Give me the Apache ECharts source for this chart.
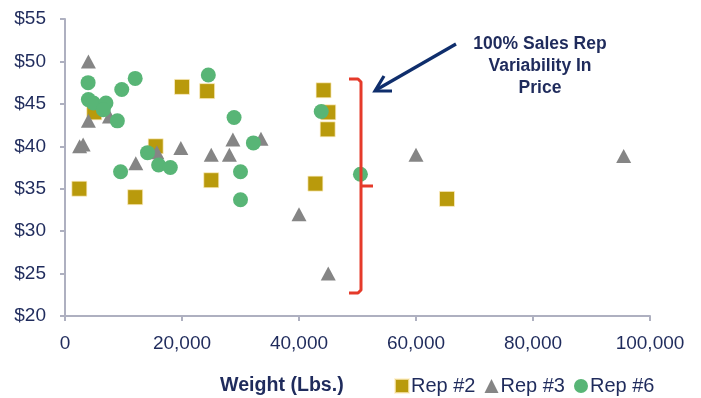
<!DOCTYPE html>
<html>
<head>
<meta charset="utf-8">
<script src="https://cdn.jsdelivr.net/npm/echarts@6/dist/echarts.min.js"></script>
<style>
  html, body { margin: 0; padding: 0; background: #ffffff; }
  #chart { width: 701px; height: 398px; }
</style>
</head>
<body>
<div id="chart"></div>
<script>
// Shipment weight (lbs) and price per rep
var seriesNames = ['Rep #2', 'Rep #3', 'Rep #6'];

var rep2Weight = [2450, 12000, 15500, 20000, 24300, 25000, 5000, 42800, 44200, 45000, 44900, 65300];
var rep2Price  = [35.0, 34.0, 40.0, 47.0, 46.5, 36.0, 44.0, 35.6, 46.6, 44.0, 42.0, 33.8];

var rep3Weight = [4000, 4000, 2500, 3100, 12100, 15700, 19800, 7600, 25000, 28100, 28700, 33500, 40000, 45000, 60000, 95500];
var rep3Price  = [50.0, 43.0, 40.0, 40.2, 38.0, 39.3, 39.8, 43.5, 39.0, 39.0, 40.8, 40.9, 32.0, 25.0, 39.0, 38.85];

var rep6Weight = [3950, 4000, 4850, 7000, 6550, 8950, 9700, 12000, 9500, 14100, 16000, 18000, 24500, 28900, 32200, 30000, 30000, 43800, 50500];
var rep6Price  = [47.5, 45.5, 45.1, 45.1, 44.3, 43.0, 46.7, 48.0, 37.0, 39.25, 37.8, 37.5, 48.4, 43.4, 40.4, 37.0, 33.7, 44.1, 36.7];

var xTicks = { min: 0, max: 100000, step: 20000 };
var yTicks = { min: 20, max: 55, step: 5 };

var annotationText = '100% Sales Rep\nVariability In\nPrice';
var xAxisTitle = 'Weight (Lbs.)';

function pairs(xs, ys) {
  return xs.map(function (x, i) { return [x, ys[i]]; });
}

var navy = '#1f2b5c';
var fontFamily = 'Arial, "Liberation Sans", sans-serif';
var axisGray = '#aeb0c0';

var chart = echarts.init(document.getElementById('chart'), null, { renderer: 'canvas' });

chart.setOption({
  animation: false,
  backgroundColor: '#ffffff',
  grid: { left: 65, top: 19, width: 585, height: 297, containLabel: false },
  xAxis: {
    type: 'value',
    min: xTicks.min, max: xTicks.max, interval: xTicks.step,
    axisLine: { show: true, lineStyle: { color: axisGray, width: 2 } },
    axisTick: { show: true, length: 5, lineStyle: { color: axisGray, width: 2 } },
    splitLine: { show: false },
    axisLabel: {
      margin: 18, color: navy, fontSize: 19, fontFamily: fontFamily,
      formatter: function (v) { return v.toLocaleString('en-US'); }
    }
  },
  yAxis: {
    type: 'value',
    min: yTicks.min, max: yTicks.max, interval: yTicks.step,
    axisLine: { show: true, lineStyle: { color: axisGray, width: 2 } },
    axisTick: { show: true, length: 5, lineStyle: { color: axisGray, width: 2 } },
    splitLine: { show: false },
    axisLabel: {
      margin: 19, color: navy, fontSize: 19, fontFamily: fontFamily,
      formatter: function (v) { return '$' + v; }
    }
  },
  legend: {
    left: 394, top: 376, padding: 0,
    itemWidth: 14, itemHeight: 14, itemGap: 9,
    textStyle: { color: navy, fontSize: 20, fontFamily: fontFamily, padding: [0, 0, 0, -3] },
    data: [
      { name: seriesNames[0], icon: 'rect' },
      { name: seriesNames[1], icon: 'triangle' },
      { name: seriesNames[2], icon: 'circle' }
    ]
  },
  series: [
    {
      name: seriesNames[0], type: 'scatter', symbol: 'rect', symbolSize: 15,
      itemStyle: { color: '#b99a0c', borderColor: 'rgba(255,240,200,0.7)', borderWidth: 1, opacity: 1 },
      data: pairs(rep2Weight, rep2Price), z: 2
    },
    {
      name: seriesNames[1], type: 'scatter', symbol: 'triangle', symbolSize: [15, 14],
      itemStyle: { color: '#858585', opacity: 1 },
      data: pairs(rep3Weight, rep3Price), z: 3
    },
    {
      name: seriesNames[2], type: 'scatter', symbol: 'circle', symbolSize: 15,
      itemStyle: { color: '#58b576', opacity: 1 },
      data: pairs(rep6Weight, rep6Price), z: 4
    }
  ],
  graphic: [
    {
      type: 'text', left: 220, top: 376, z: 10,
      style: { text: xAxisTitle, fill: navy, font: 'bold 19.6px ' + fontFamily }
    },
    {
      type: 'text', z: 10,
      style: {
        x: 540, y: 33, text: annotationText, fill: navy,
        font: 'bold 17.5px ' + fontFamily, align: 'center', lineHeight: 22
      }
    },
    {
      // pointer toward the bracket
      type: 'polyline', z: 10,
      shape: { points: [[456, 44], [376, 90]] },
      style: { stroke: '#0f2e6c', lineWidth: 3.2, fill: null }
    },
    {
      type: 'polyline', z: 10,
      shape: { points: [[384, 76], [375, 91], [392, 91]] },
      style: { stroke: '#0f2e6c', lineWidth: 3.2, fill: null, lineJoin: 'miter' }
    },
    {
      // red bracket spanning the price spread
      type: 'polyline', z: 10,
      shape: { points: [[349, 79], [358, 79], [361, 82], [361, 290], [358, 293], [349, 293]] },
      style: { stroke: '#e53a2a', lineWidth: 3, fill: null, lineJoin: 'round' }
    },
    {
      type: 'polyline', z: 10,
      shape: { points: [[361, 186], [373, 186]] },
      style: { stroke: '#e53a2a', lineWidth: 3, fill: null }
    }
  ]
});
</script>
</body>
</html>
